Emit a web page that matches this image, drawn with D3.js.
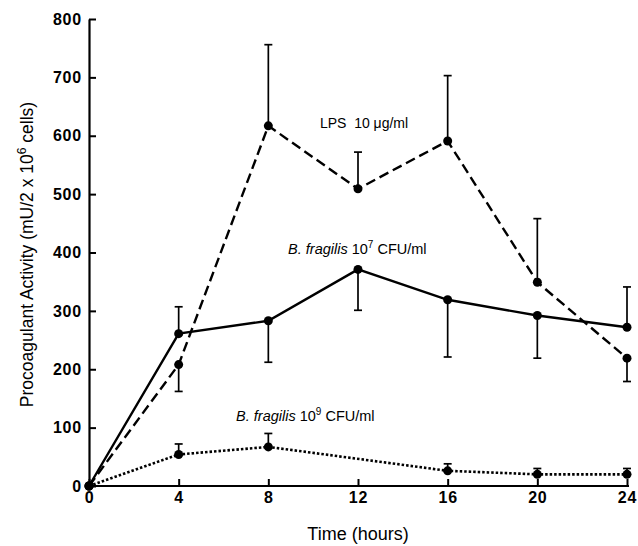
<!DOCTYPE html>
<html>
<head>
<meta charset="utf-8">
<script src="https://cdn.jsdelivr.net/npm/d3@7"></script>
<style>
  body { margin: 0; background: #fff; }
  svg { display: block; font-family: "Liberation Sans", Arial, Helvetica, sans-serif; }
</style>
</head>
<body>
<svg id="chart"></svg>
<script>

// time points (hours)
const hours = [0, 4, 8, 12, 16, 20, 24];

// LPS 10 ug/ml  (dashed)
const lpsMean = [0, 208, 617, 509, 591, 349, 219];
const lpsErrEnd = [null, 162, 756, 572, 703, 458, 179];

// B. fragilis 10^7 CFU/ml  (solid)
const bf7Mean = [0, 261, 283, 371, 319, 292, 272];
const bf7ErrEnd = [null, 307, 212, 301, 221, 219, 341];

// B. fragilis 10^9 CFU/ml  (dotted) - no point at 12 h
const bf9Hours = [0, 4, 8, 16, 20, 24];
const bf9Mean = [0, 54, 67, 26, 20, 20];
const bf9ErrEnd = [null, 72, 90, 38, 30, 30];

const xTicks = [0, 4, 8, 12, 16, 20, 24];
const yTicks = [0, 100, 200, 300, 400, 500, 600, 700, 800];


const width = 638;
const height = 546;

const svg = d3.select('#chart')
  .attr('width', width)
  .attr('height', height);

const x = d3.scaleLinear().domain([0, 24]).range([89, 627]);
const y = d3.scaleLinear().domain([0, 800]).range([486, 19]);


// axes, ticks pointing inward
const xAxis = d3.axisBottom(x)
  .tickValues(xTicks)
  .tickSizeInner(-7)
  .tickSizeOuter(0)
  .tickPadding(6);

const yAxis = d3.axisLeft(y)
  .tickValues(yTicks)
  .tickSizeInner(-7)
  .tickSizeOuter(0)
  .tickPadding(7);

const gx = svg.append('g')
  .attr('transform', `translate(0,${y(0)})`)
  .call(xAxis);

const gy = svg.append('g')
  .attr('transform', `translate(${x(0)},0)`)
  .call(yAxis);

[gx, gy].forEach(g => {
  g.select('.domain').attr('stroke', '#000').attr('stroke-width', 2.2);
  g.selectAll('.tick line').attr('stroke', '#000').attr('stroke-width', 2);
  g.selectAll('.tick text')
    .attr('fill', '#000')
    .style('font-size', '16px')
    .style('font-weight', 'bold')
    .style('letter-spacing', '0.8px');
});
gx.select('.domain').attr('d', `M${x(0)},0H${x(24) + 2}`);


// build the series
const series = [
  { t: hours, mean: lpsMean, err: lpsErrEnd, dash: '10,5', width: 2.4 },
  { t: hours, mean: bf7Mean, err: bf7ErrEnd, dash: null, width: 2.4 },
  { t: bf9Hours, mean: bf9Mean, err: bf9ErrEnd, dash: '2.5,2', width: 2.6 }
];

const line = d3.line()
  .x(d => x(d.t))
  .y(d => y(d.v));

series.forEach(s => {
  const pts = s.t.map((t, i) => ({ t: t, v: s.mean[i], e: s.err[i] }));
  const g = svg.append('g');

  // error bars (one-sided)
  const bars = pts.filter(d => d.e !== null);
  g.selectAll('line.err')
    .data(bars)
    .enter().append('line')
      .attr('class', 'err')
      .attr('x1', d => x(d.t))
      .attr('x2', d => x(d.t))
      .attr('y1', d => y(d.v))
      .attr('y2', d => y(d.e))
      .attr('stroke', '#000')
      .attr('stroke-width', 1.7);

  g.selectAll('line.cap')
    .data(bars)
    .enter().append('line')
      .attr('class', 'cap')
      .attr('x1', d => x(d.t) - 4)
      .attr('x2', d => x(d.t) + 4)
      .attr('y1', d => y(d.e))
      .attr('y2', d => y(d.e))
      .attr('stroke', '#000')
      .attr('stroke-width', 1.7);

  g.append('path')
    .datum(pts)
    .attr('d', line)
    .attr('fill', 'none')
    .attr('stroke', '#000')
    .attr('stroke-width', s.width)
    .attr('stroke-dasharray', s.dash);

  g.selectAll('circle')
    .data(pts)
    .enter().append('circle')
      .attr('cx', d => x(d.t))
      .attr('cy', d => y(d.v))
      .attr('r', 4.5)
      .attr('fill', '#000');
});


// series labels
const lpsLabel = svg.append('text')
  .attr('x', x(10.3))
  .attr('y', y(613))
  .style('font-size', '14px');
lpsLabel.append('tspan').text('LPS\u00a0\u00a010 \u03bcg/ml');

function bfLabel(hx, vy, exp) {
  const t = svg.append('text')
    .attr('x', x(hx))
    .attr('y', y(vy))
    .style('font-size', '14.5px');
  t.append('tspan').style('font-style', 'italic').text('B. fragilis ');
  t.append('tspan').text('10');
  t.append('tspan').attr('dy', -6).style('font-size', '10px').text(exp);
  t.append('tspan').attr('dy', 6).text(' CFU/ml');
}
bfLabel(8.88, 398, '7');
bfLabel(6.56, 112, '9');


// axis titles
svg.append('text')
  .attr('x', x(12))
  .attr('y', 540)
  .attr('text-anchor', 'middle')
  .style('font-size', '18px')
  .text('Time (hours)');

const yTitle = svg.append('text')
  .attr('transform', `translate(33,${y(400) + 2}) rotate(-90)`)
  .attr('text-anchor', 'middle')
  .style('font-size', '17.5px');
yTitle.append('tspan').text('Procoagulant Activity (mU/2 x 10');
yTitle.append('tspan').attr('dy', -7).style('font-size', '12px').text('6');
yTitle.append('tspan').attr('dy', 7).text(' cells)');

</script>
</body>
</html>
